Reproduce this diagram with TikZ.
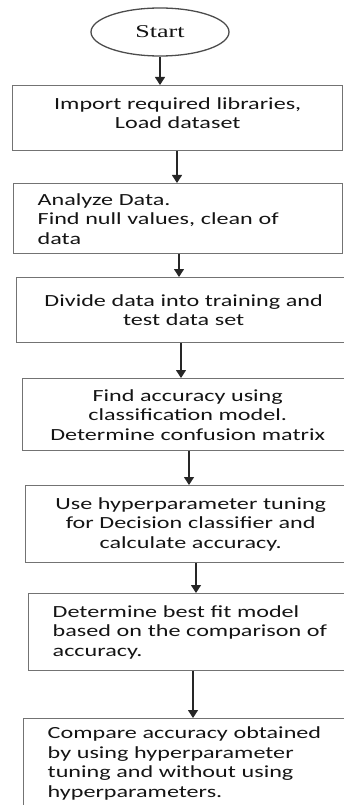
\documentclass[tikz,border=0pt]{standalone}
\usepackage{fontspec}
\setmainfont[FakeStretch=1.42]{Carlito}
\newfontfamily\startfont[FakeStretch=1.45]{Liberation Serif}
\usetikzlibrary{shapes.geometric,arrows.meta}
\tikzset{
  box/.style={draw=black!55, line width=1.4pt, rectangle, anchor=north west,
    inner xsep=10pt, inner ysep=0pt, text=black!92,
    font=\fontsize{17}{19.5}\selectfont},
  cbox/.style={box, align=center},
  lbox/.style={box, align=left, inner xsep=24pt},
  arr/.style={draw=black!85, line width=1.2pt, -{Triangle[width=10pt,length=8pt]}},
}
\begin{document}
\begin{tikzpicture}[x=1pt,y=-1pt]
\useasboundingbox (0,0) rectangle (344,805);
\clip (0,0) rectangle (344,805);
\node[draw=black!70, line width=1.3pt, ellipse, minimum width=138pt, minimum height=48pt, inner sep=0pt, text=black!92]
  (start) at (160,32) {\startfont\fontsize{18}{20}\selectfont Start};
\node[cbox, minimum width=330pt, minimum height=65pt, text width=310pt] (b1) at (12,85)
  {Import required libraries,\\ Load dataset\\[-9pt]\mbox{}};
\node[lbox, minimum width=329pt, minimum height=70pt, text width=281pt] (b2) at (13,183)
  {Analyze Data.\\ Find null values, clean of\\ data};
\node[cbox, minimum width=334pt, minimum height=65pt, text width=314pt] (b3) at (16,277)
  {Divide data into training and\\ test data set};
\node[cbox, minimum width=330pt, minimum height=72pt, text width=310pt] (b4) at (22,378)
  {Find accuracy using\\ classification model.\\ Determine confusion matrix};
\node[cbox, minimum width=330pt, minimum height=77pt, text width=310pt] (b5) at (25,485)
  {Use hyperparameter tuning\\ for Decision classifier and\\ calculate accuracy.};
\node[lbox, minimum width=330pt, minimum height=77pt, text width=282pt, inner xsep=23pt] (b6) at (28,593)
  {Determine best fit model\\ based on the comparison of\\ accuracy.};
\node[lbox, minimum width=330pt, minimum height=90pt, text width=282pt] (b7) at (23,718)
  {Compare accuracy obtained\\ by using hyperparameter\\ tuning and without using\\ hyperparameters.};
\coordinate (x2) at (177,0);
\coordinate (x3) at (179,0);
\coordinate (x4) at (181,0);
\coordinate (x5) at (189,0);
\coordinate (x6) at (196,0);
\coordinate (x7) at (193,0);
\draw[arr] (start.south) -- (start.south |- b1.north);
\draw[arr] (b1.south -| x2) -- (b2.north -| x2);
\draw[arr] (b2.south -| x3) -- (b3.north -| x3);
\draw[arr] (b3.south -| x4) -- (b4.north -| x4);
\draw[arr] (b4.south -| x5) -- (b5.north -| x5);
\draw[arr] (b5.south -| x6) -- (b6.north -| x6);
\draw[arr] (b6.south -| x7) -- (b7.north -| x7);
\end{tikzpicture}
\end{document}
